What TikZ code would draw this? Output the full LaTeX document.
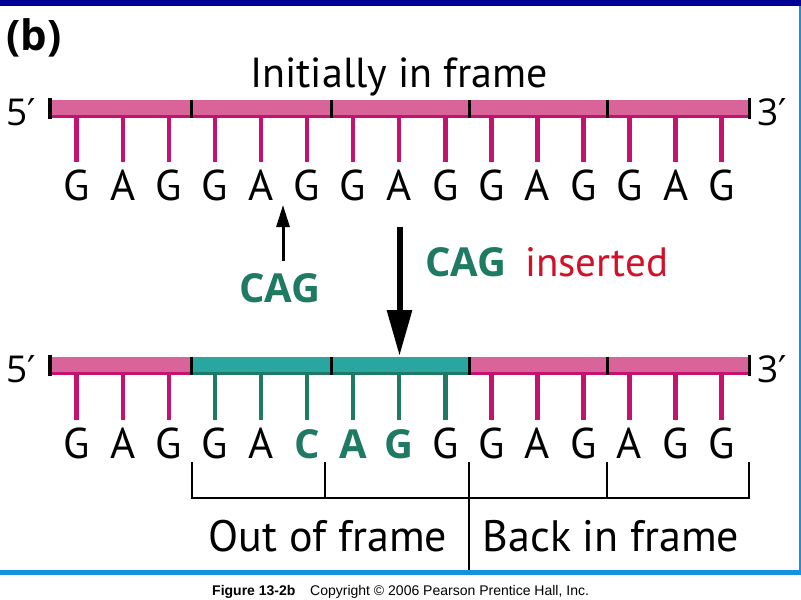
\documentclass[tikz,border=0pt]{standalone}
\usepackage{fontspec}
\setmainfont{PT Sans}
\newfontfamily\footfont{Liberation Sans}
\newfontfamily\boldfont{Open Sans}
\newfontfamily\primefont{DejaVu Sans}
\usetikzlibrary{arrows.meta}
\definecolor{pinkfill}{RGB}{216,100,154}
\definecolor{magline}{RGB}{196,18,110}
\definecolor{tealfill}{RGB}{42,166,160}
\definecolor{dkgreen}{RGB}{30,122,98}
\definecolor{redtxt}{RGB}{212,16,40}
\definecolor{navybar}{RGB}{0,0,150}
\definecolor{ltblue}{RGB}{24,144,226}
\newcommand{\pr}{{\primefont ′}}
\tikzset{
  basetxt/.style={font=\fontsize{43}{43}\selectfont, anchor=base, inner sep=0pt},
  ticklin/.style={line width=4.5pt},
  divlin/.style={line width=3pt, black},
  brlin/.style={line width=1.8pt, black},
  lbl/.style={inner sep=0pt, anchor=base},
  endlbl/.style={inner sep=0pt, anchor=base west, font=\boldfont\fontsize{37}{37}\selectfont},
  cagtxt/.style={inner sep=0pt, anchor=base west, font=\boldfont\bfseries\fontsize{40}{40}\selectfont, text=dkgreen},
}
\begin{document}
\begin{tikzpicture}[x=1pt,y=-1pt]
\useasboundingbox (0,0) rectangle (801,600);
\fill[white] (0,0) rectangle (801,600);
% frame
\fill[navybar] (0,0) rectangle (801,6);
\fill[ltblue] (0,570) rectangle (801,575);
\draw[ltblue, line width=1.5pt] (800,6) -- (800,570);
% title
\node[lbl, anchor=base west, font=\boldfont\bfseries\fontsize{42}{42}\selectfont] (b) at (6,50) {(b)};
\node[lbl, font=\fontsize{42}{42}\selectfont] (init) at (399,87) {Initially in frame};
% ---- top strand ----
\foreach \a/\c in {50/191.7, 191.7/331, 331/469, 469/607.5, 607.5/749.5}{
  \fill[pinkfill] (\a,100) rectangle (\c,118);
  \draw[magline, line width=3pt] (\a,116.5) -- (\c,116.5);
}
\foreach \x in {191.7,331,469,607.5}{ \draw[divlin] (\x,100) -- (\x,118); }
\draw[line width=3.5pt] (50,98) -- (50,119);
\draw[line width=3.5pt] (749.5,98) -- (749.5,119);
\node[endlbl] (t5) at (6,125) {5\pr};
\node[endlbl] (t3) at (757,125) {3\pr};
\foreach \L [count=\k from 0] in {G,A,G,G,A,G,G,A,G,G,A,G,G,A,G}{
  \pgfmathsetmacro\xx{76.7+46.07*\k}
  \draw[ticklin, magline] (\xx,118) -- (\xx,162);
  \node[basetxt] (t\k) at (\xx,200) {\L};
}
% ---- arrows and labels ----
\coordinate (sa0) at (283,261);
\coordinate (sa1) at (283,205);
\draw[line width=3pt, -{Triangle[width=13pt,length=22pt]}] (sa0) -- (sa1);
\node[cagtxt] (cag1) at (239,302) {CAG};
\coordinate (ba0) at (399.5,227);
\coordinate (ba1) at (399.5,356);
\draw[line width=6pt, -{Triangle[width=24pt,length=46pt]}] (ba0) -- (ba1);
\node[cagtxt] (cag2) at (425,276) {CAG};
\node[lbl, anchor=base west, font=\fontsize{41}{41}\selectfont, text=redtxt] (ins) at (525,276) {inserted};
% ---- bottom strand ----
\foreach \a/\c/\f/\e in {50/191.7/pinkfill/magline, 191.7/331/tealfill/dkgreen, 331/469/tealfill/dkgreen, 469/607.5/pinkfill/magline, 607.5/749.5/pinkfill/magline}{
  \fill[\f] (\a,357) rectangle (\c,375);
  \draw[\e, line width=3pt] (\a,373.5) -- (\c,373.5);
}
\foreach \x in {191.7,331,469,607.5}{ \draw[divlin] (\x,357) -- (\x,375); }
\draw[line width=3.5pt] (50,355) -- (50,376);
\draw[line width=3.5pt] (749.5,355) -- (749.5,376);
\node[endlbl] (b5) at (6,382) {5\pr};
\node[endlbl] (b3) at (757,382) {3\pr};
\foreach \L [count=\k from 0] in {G,A,G,G,A,C,A,G,G,G,A,G,A,G,G}{
  \pgfmathsetmacro\xx{76.7+46.07*\k}
  \ifnum\k>2 \ifnum\k<9 \def\tc{dkgreen}\else\def\tc{magline}\fi\else\def\tc{magline}\fi
  \draw[ticklin, \tc] (\xx,375) -- (\xx,420);
  \ifnum\k>4 \ifnum\k<8
    \node[basetxt, font=\boldfont\bfseries\fontsize{40}{40}\selectfont, text=dkgreen] (q\k) at (\xx,458) {\L};
  \else
    \node[basetxt] (q\k) at (\xx,458) {\L};
  \fi\else
    \node[basetxt] (q\k) at (\xx,458) {\L};
  \fi
}
% ---- brackets ----
\foreach \x [count=\i] in {192,325,469,607,749}{ \coordinate (br\i) at (\x,462); \coordinate (bh\i) at (\x,498); }
\draw[brlin] (br1) -- (bh1) -- (bh5) -- (br5);
\draw[brlin] (br2) -- (bh2);
\draw[brlin] (br4) -- (bh4);
\coordinate (mid1) at (469,570);
\draw[brlin] (br3) -- (mid1);
\node[lbl, font=\fontsize{44}{44}\selectfont] (oof) at (328,551) {Out of frame};
\node[lbl, font=\fontsize{44}{44}\selectfont] (bif) at (611,551) {Back in frame};
% ---- footer ----
\node[lbl, anchor=base west, font=\footfont\bfseries\fontsize{14}{14}\selectfont] (fig) at (212,595) {Figure 13-2b};
\node[lbl, anchor=base west, font=\footfont\fontsize{14}{14}\selectfont] (copy) at (310,595) {Copyright © 2006 Pearson Prentice Hall, Inc.};
\end{tikzpicture}
\end{document}
